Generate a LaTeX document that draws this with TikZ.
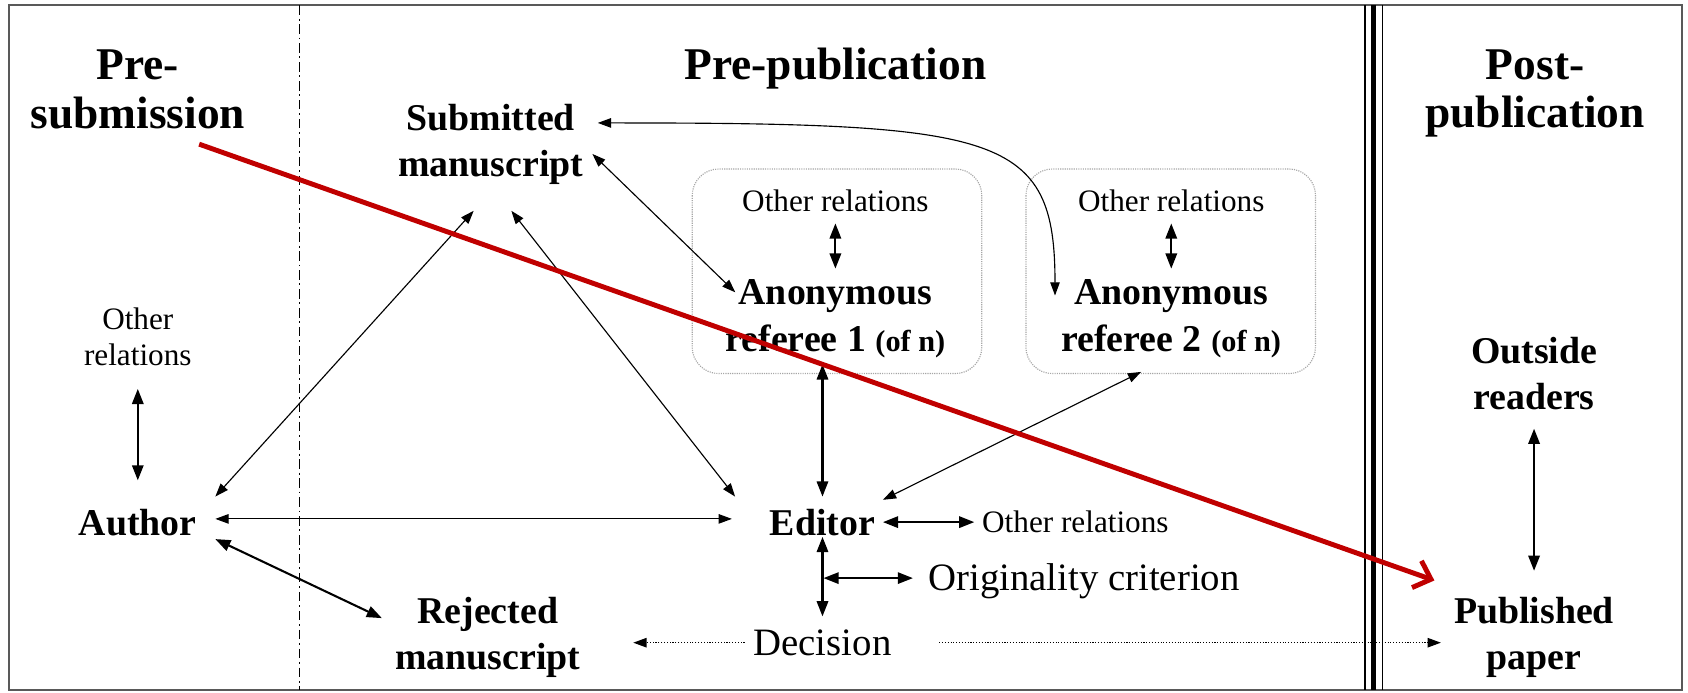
\documentclass[tikz,border=0pt]{standalone}
\usepackage{fontspec}
\setmainfont{Liberation Serif}
\usepackage{tikz}
\usetikzlibrary{calc,positioning,arrows.meta}
\definecolor{flowred}{RGB}{192,0,0}

\begin{document}
\begin{tikzpicture}[x=0.2mm, y=-0.2mm]
  \useasboundingbox (0,0) rectangle (1568,643);

  % ---- Styles -------------------------------------------------
  \tikzstyle{stage}=[inner sep=0pt, align=center,
                     font=\fontsize{24}{25.6}\selectfont\bfseries]
  \tikzstyle{actor}=[inner sep=0pt, align=center,
                     font=\fontsize{20}{24.5}\selectfont\bfseries]
  \tikzstyle{note}=[inner sep=0pt, align=center,
                    font=\fontsize{16.5}{19}\selectfont]
  \tikzstyle{bignote}=[inner sep=0pt, font=\fontsize{20.5}{24}\selectfont]
  \tikzstyle{link}=[{Triangle[length=7pt,width=5pt]}-{Triangle[length=7pt,width=5pt]},
                    line width=0.6pt]
  \tikzstyle{boldlink}=[{Triangle[length=8pt,width=6pt]}-{Triangle[length=8pt,width=6pt]},
                        line width=1.1pt]
  \tikzstyle{dots}=[-{Triangle[length=7pt,width=5pt]}, line width=0.6pt,
                    dash pattern=on 0.6pt off 0.9pt]
  \tikzstyle{refbox}=[gray!70, line width=0.6pt, dash pattern=on 0.6pt off 0.6pt,
                      rounded corners=14pt]

  % ---- Frame and phase dividers -------------------------------
  \draw[black!65, line width=1pt] (8,5) rectangle (1562,641);
  \draw[line width=0.8pt, dash pattern=on 5pt off 2pt on 1pt off 2pt]
    (278,5) -- (278,641);
  \draw[line width=0.6pt] (1268,5) -- (1268,641);
  \draw[line width=2.6pt] (1276,5) -- (1276,641);
  \draw[line width=0.6pt] (1284,5) -- (1284,641);

  % ---- Referee groups -----------------------------------------
  \draw[refbox] (643,157) rectangle (912,347);
  \draw[refbox] (953,157) rectangle (1222,347);

  % ---- Phase headings -----------------------------------------
  \node[stage] (presub)  at (128,83)  {Pre-\\submission};
  \node[stage] (prepub)  at (776,64)  {Pre-publication};
  \node[stage] (postpub) at (1426,87) {Post-\\publication};

  % ---- Actors and documents -----------------------------------
  \node[actor] (sub)       at (456,134)  {Submitted\\manuscript};
  \node[note]  (rel1)      at (776,187)  {Other relations};
  \node[actor] (ref1)      at (776,296)
    {Anonymous\\referee 1 {\fontsize{16}{18}\selectfont(of n)}};
  \node[note]  (rel2)      at (1088,187) {Other relations};
  \node[actor] (ref2)      at (1088,296)
    {Anonymous\\referee 2 {\fontsize{16}{18}\selectfont(of n)}};
  \node[note]  (relA)      at (128,313)  {Other\\relations};
  \node[actor] (author)    at (128,485)  {Author};
  \node[actor] (editor)    at (764,485)  {Editor};
  \node[note, anchor=west]    (relE) at (912,485) {Other relations};
  \node[bignote, anchor=west] (orig) at (862,540) {Originality criterion};
  \node[bignote] (decision)  at (764,597)  {Decision};
  \node[actor] (rejected)  at (453,592)  {Rejected\\manuscript};
  \node[actor] (readers)   at (1425,347) {Outside\\readers};
  \node[actor] (published) at (1425,592) {Published\\paper};
  \coordinate (branch) at (765,537);

  % ---- Relations ----------------------------------------------
  \draw[link] ([shift={(17,-11)}]author.north east) -- ([shift={(-16,24)}]sub.south);
  \draw[link] ([shift={(19,24)}]sub.south) -- ([shift={(-32,-11)}]editor.north west);
  \draw[link] ([shift={(17,-3)}]author.east) -- ([shift={(-35,-3)}]editor.west);
  \draw[boldlink] ([shift={(17,3)}]author.south east)
    -- ([shift={(-12,20)}]rejected.north west);
  \draw[link] ([shift={(8,9)}]sub.east) -- ([shift={(-93,12)}]ref1.north);
  \draw[link] ([shift={(13,18)}]sub.north east)
    .. controls +(375,0) and +(0,-150) .. ([shift={(-108,15)}]ref2.north);
  \draw[boldlink] ([shift={(-12,6)}]ref1.south) -- ([shift={(0,-11)}]editor.north);
  \draw[link] ([shift={(-28,13)}]ref2.south) -- ([shift={(7,-8)}]editor.north east);
  \draw[boldlink] ([shift={(7,0)}]editor.east) -- ([shift={(-7,0)}]relE.west);
  \draw[boldlink] ([shift={(0,1)}]editor.south) -- ([shift={(0,-12)}]decision.north);
  \draw[boldlink] (branch) -- ([shift={(-14,-3)}]orig.west);
  \draw[boldlink] ([shift={(0,21)}]relA.south) -- ([shift={(0,-26)}]author.north);
  \draw[boldlink] ([shift={(0,10)}]rel1.south) -- ([shift={(0,-10)}]ref1.north);
  \draw[boldlink] ([shift={(0,10)}]rel2.south) -- ([shift={(0,-10)}]ref2.north);
  \draw[boldlink] ([shift={(0,17)}]readers.south) -- ([shift={(0,-24)}]published.north);

  % ---- Decision outcomes --------------------------------------
  \draw[dots] ([shift={(-8,0)}]decision.west) -- ([shift={(49,5)}]rejected.east);
  \draw[dots] ([shift={(44,0)}]decision.east) -- ([shift={(-12,5)}]published.west);

  % ---- Overall flow -------------------------------------------
  \draw[flowred, line width=2.6pt, line join=round,
        -{Straight Barb[length=8pt,width=15pt]}]
    ([shift={(57,14)}]presub.south) -- ([shift={(-18,-15)}]published.north west);

\end{tikzpicture}
\end{document}
